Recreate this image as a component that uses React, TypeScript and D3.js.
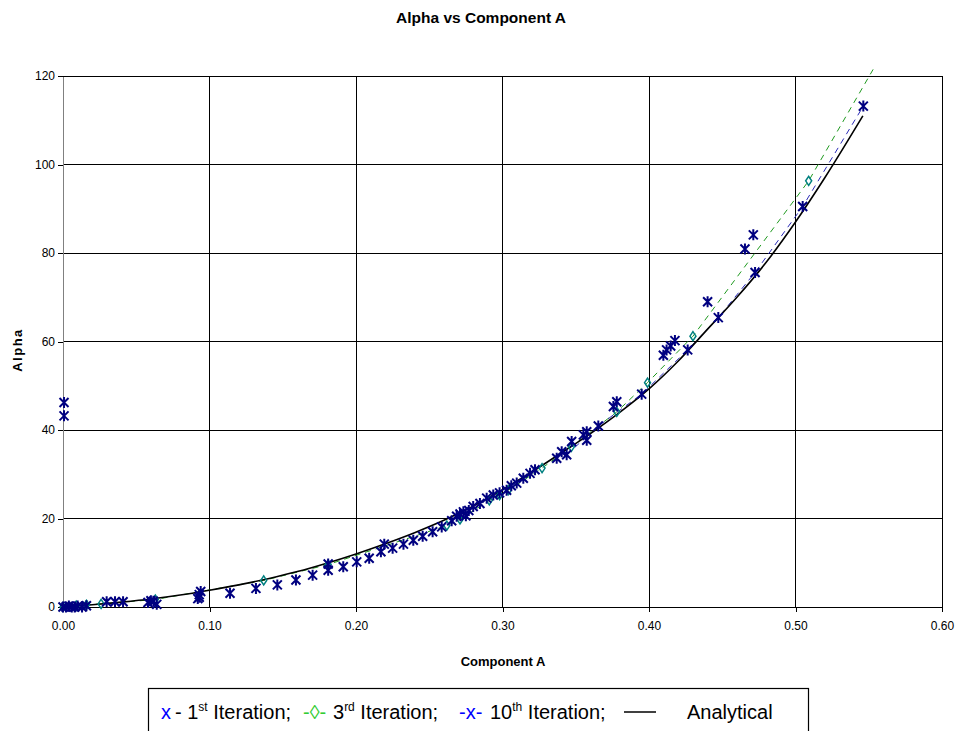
import React, { useEffect, useRef } from "react";
import * as d3 from "d3";

// Analytical solution sampled along Component A
const analyticalX = [0, 0.02, 0.04, 0.06, 0.08, 0.1, 0.12, 0.14, 0.16, 0.18, 0.2, 0.22, 0.24, 0.26, 0.28, 0.3, 0.32, 0.34, 0.36, 0.38, 0.4, 0.42, 0.44, 0.46, 0.48, 0.5, 0.52, 0.546];
const analyticalY = [0, 0.5, 1.1, 1.8, 2.7, 3.8, 5.0, 6.4, 8.0, 9.9, 12.0, 14.3, 16.8, 19.6, 22.8, 26.5, 30.5, 34.8, 39.2, 44.0, 49.3, 55.6, 62.8, 70.0, 77.9, 87.0, 97.0, 111.0];

// 1st iteration results
const iter1X = [0, 0.002, 0.004, 0.006, 0.008, 0.01, 0.013, 0.016, 0.0007, 0.0007, 0.0298, 0.0355, 0.041, 0.058, 0.0617, 0.064, 0.06, 0.093, 0.093, 0.094, 0.092, 0.114, 0.1317, 0.1463, 0.159, 0.1704, 0.181, 0.181, 0.1913, 0.2005, 0.209, 0.217, 0.2193, 0.225, 0.2324, 0.2391, 0.2455, 0.2523, 0.2585, 0.2653, 0.2687, 0.271, 0.2733, 0.275, 0.277, 0.28, 0.2846, 0.2892, 0.2937, 0.298, 0.3028, 0.306, 0.3097, 0.3142, 0.3188, 0.3222, 0.337, 0.3404, 0.3472, 0.3552, 0.3575, 0.3575, 0.3757, 0.378, 0.4098, 0.412, 0.4148, 0.4177, 0.44, 0.4655, 0.4712];
const iter1Y = [0, 0, 0.2, 0, 0, 0.2, 0, 0.3, 46.2, 43.2, 1.2, 1.2, 1.2, 1.0, 1.3, 0.6, 1.4, 2.2, 2.8, 3.5, 1.9, 3.1, 4.2, 5.0, 6.1, 7.2, 9.7, 8.3, 9.1, 10.2, 11.0, 12.5, 14.2, 13.3, 14.2, 15.1, 16.0, 17.0, 18.1, 19.5, 20.5, 21.0, 21.5, 20.6, 21.8, 22.7, 23.4, 24.6, 25.3, 25.8, 26.4, 27.4, 28.0, 29.1, 30.2, 31.0, 33.6, 35.1, 37.4, 38.9, 39.6, 37.7, 45.3, 46.4, 56.9, 58.1, 59.0, 60.2, 69.0, 80.9, 84.1];

// 3rd iteration results
const iter3X = [0, 0.009, 0.016, 0.026, 0.063, 0.137, 0.181, 0.262, 0.271, 0.291, 0.298, 0.304, 0.327, 0.347, 0.378, 0.399, 0.43, 0.509, 0.553];
const iter3Y = [0, 0.3, 0.5, 0.7, 1.7, 6.0, 9.6, 18.4, 19.8, 24.1, 25.3, 26.4, 31.4, 36.2, 44.1, 50.7, 61.2, 96.3, 121.5];

// 10th iteration results
const iter10X = [0.3438, 0.3654, 0.395, 0.4264, 0.4473, 0.4724, 0.5049, 0.5463];
const iter10Y = [34.4, 40.9, 48.1, 58.1, 65.4, 75.6, 90.5, 113.2];

const xTicks = [0, 0.1, 0.2, 0.3, 0.4, 0.5, 0.6];
const yTicks = [0, 20, 40, 60, 80, 100, 120];

const W = 956;
const H = 731;
const left = 63;
const right = 942;
const top = 76;
const bottom = 607;

const FONT = "'Liberation Sans', Arial, sans-serif";
const NAVY = "#000080";
const TEAL = "#008080";
const GREEN = "#1f9a1f";
const BLUE = "#2a2ab8";

type Pt = [number, number];
const zip = (xs: number[], ys: number[]): Pt[] => xs.map((x, i) => [x, ys[i]]);

export default function App() {
  const xAxisRef = useRef<SVGGElement>(null);
  const yAxisRef = useRef<SVGGElement>(null);

  const x = d3.scaleLinear().domain([0, 0.6]).range([left, right]);
  const y = d3.scaleLinear().domain([0, 120]).range([bottom, top]);

  const straight = d3.line<Pt>().x((d) => x(d[0])).y((d) => y(d[1]));
  const smooth = d3.line<Pt>().x((d) => x(d[0])).y((d) => y(d[1])).curve(d3.curveMonotoneX);

  const analytical = zip(analyticalX, analyticalY);
  const iter1 = zip(iter1X, iter1Y);
  const iter3 = zip(iter3X, iter3Y);
  const iter10 = zip(iter10X, iter10Y);

  useEffect(() => {
    const xa = d3.select(xAxisRef.current!);
    xa.call(d3.axisBottom(x).tickValues(xTicks).tickFormat(d3.format(".2f")).tickSize(5).tickSizeOuter(0));
    xa.select(".domain").attr("stroke", "#000");
    xa.selectAll(".tick line").attr("stroke", "#000");
    xa.selectAll(".tick text").attr("font-family", FONT).attr("font-size", 12).attr("fill", "#000").attr("dy", "1.25em");

    const ya = d3.select(yAxisRef.current!);
    ya.call(d3.axisLeft(y).tickValues(yTicks).tickFormat(d3.format("d")).tickSize(5).tickSizeOuter(0));
    ya.select(".domain").attr("stroke", "#808080");
    ya.selectAll(".tick line").attr("stroke", "#000");
    ya.selectAll(".tick text").attr("font-family", FONT).attr("font-size", 12).attr("fill", "#000").attr("x", -8);
  }, []);

  const star = "M-4.5,-4.5L4.5,4.5M-4.5,4.5L4.5,-4.5M0,-5.5L0,5.5";
  const diamond = "M0,-4.5L3,0L0,4.5L-3,0Z";

  return (
    <svg width={W} height={H} style={{ position: "absolute", left: 0, top: 0, background: "#fff" }}>
      <rect x={0} y={0} width={W} height={H} fill="#fff" />
      <text x={481} y={23} textAnchor="middle" fontFamily={FONT} fontWeight="bold" fontSize={15.5}>
        Alpha vs Component A
      </text>

      {/* grid */}
      <g shapeRendering="crispEdges">
        {yTicks.filter((t) => t > 0).map((t) => (
          <line key={"gy" + t} x1={left} x2={right} y1={y(t)} y2={y(t)} stroke="#000" strokeWidth={1} />
        ))}
        {xTicks.filter((t) => t > 0).map((t) => (
          <line key={"gx" + t} x1={x(t)} x2={x(t)} y1={top} y2={bottom} stroke="#000" strokeWidth={1} />
        ))}
      </g>

      <g ref={xAxisRef} transform={`translate(0,${bottom})`} shapeRendering="crispEdges" />
      <g ref={yAxisRef} transform={`translate(${left},0)`} shapeRendering="crispEdges" />

      {/* series lines */}
      <path d={straight(iter3) ?? ""} fill="none" stroke={GREEN} strokeWidth={1} strokeDasharray="6,5" />
      <path d={straight(iter10) ?? ""} fill="none" stroke={BLUE} strokeWidth={1} strokeDasharray="6,5" />
      <path d={smooth(analytical) ?? ""} fill="none" stroke="#000" strokeWidth={1.6} />

      {/* markers */}
      {iter3.filter((d) => d[1] <= 120).map((d, i) => (
        <path key={"d" + i} d={diamond} transform={`translate(${x(d[0])},${y(d[1])})`} fill="none" stroke={TEAL} strokeWidth={1.5} />
      ))}
      {iter1.map((d, i) => (
        <path key={"a" + i} d={star} transform={`translate(${x(d[0])},${y(d[1])})`} fill="none" stroke={NAVY} strokeWidth={2} />
      ))}
      {iter10.map((d, i) => (
        <path key={"c" + i} d={star} transform={`translate(${x(d[0])},${y(d[1])})`} fill="none" stroke={NAVY} strokeWidth={2} />
      ))}

      {/* axis titles */}
      <text x={503} y={666} textAnchor="middle" fontFamily={FONT} fontWeight="bold" fontSize={13}>
        Component A
      </text>
      <text
        transform="translate(22,350) rotate(-90)"
        textAnchor="middle"
        fontFamily={FONT}
        fontWeight="bold"
        fontSize={13}
        letterSpacing={1.5}
      >
        Alpha
      </text>

      {/* legend */}
      <rect x={148.5} y={688.5} width={660} height={60} fill="#fff" stroke="#000" strokeWidth={1.2} />
      <g fontFamily={FONT} fontSize={20}>
        <text x={161} y={719} fill="#0000ff">x</text>
        <text x={175} y={719}>
          - 1<tspan fontSize={12} dy={-8}>st</tspan>
          <tspan dy={8}> Iteration;</tspan>
        </text>
        <text x={303} y={719} fill="#33cc33">-◊-</text>
        <text x={333} y={719}>
          3<tspan fontSize={12} dy={-8}>rd</tspan>
          <tspan dy={8}> Iteration;</tspan>
        </text>
        <text x={459} y={719} fill="#0000ff">-x-</text>
        <text x={490} y={719}>
          10<tspan fontSize={12} dy={-8}>th</tspan>
          <tspan dy={8}> Iteration;</tspan>
        </text>
        <line x1={624} x2={656} y1={712} y2={712} stroke="#000" strokeWidth={1.5} />
        <text x={687} y={719}>Analytical</text>
      </g>
    </svg>
  );
}
